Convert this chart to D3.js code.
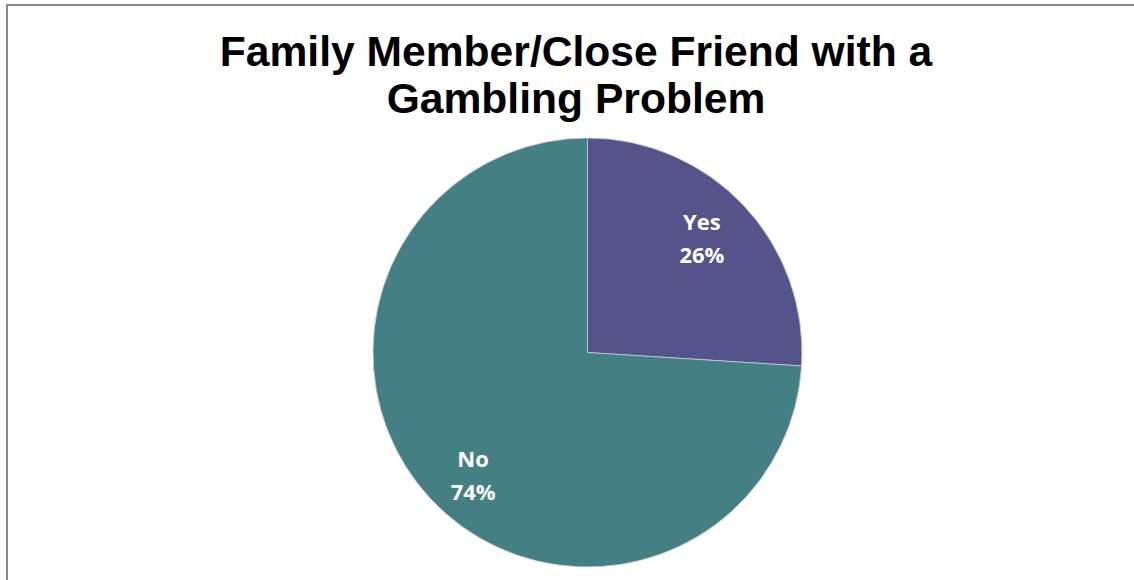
<!DOCTYPE html>
<html>
<head>
<meta charset="utf-8">
<script src="https://cdn.jsdelivr.net/npm/d3@7"></script>
<style>
  html, body { margin: 0; padding: 0; background: #fff; }
  svg { display: block; }
</style>
</head>
<body>
<svg id="chart" width="1134" height="580"></svg>
<script>
// Survey responses
const categories = ["Yes", "No"];
const values = [26, 74];
const sliceColors = ["#55548a", "#447f83"];
const titleLines = ["Family Member/Close Friend with a", "Gambling Problem"];

const width = 1134, height = 580;
const svg = d3.select("#chart");

// Frame lines (left and top)
svg.append("line").attr("x1", 7).attr("y1", 5).attr("x2", 7).attr("y2", height)
  .attr("stroke", "#8a8a8a").attr("stroke-width", 2);
svg.append("line").attr("x1", 6).attr("y1", 5).attr("x2", width).attr("y2", 5)
  .attr("stroke", "#8a8a8a").attr("stroke-width", 2);

// Title
const title = svg.append("text")
  .attr("text-anchor", "middle")
  .attr("font-family", "'Liberation Sans', Arial, sans-serif")
  .attr("font-weight", "bold")
  .attr("font-size", 42.6)
  .attr("fill", "#000");
titleLines.forEach((t, i) => {
  title.append("tspan").attr("x", 576).attr("y", 66 + i * 47).text(t);
});

// Pie
const cx = 587.5, cy = 352.5, r = 214.5;
const data = categories.map((c, i) => ({ label: c, value: values[i], color: sliceColors[i] }));
const pie = d3.pie().value(d => d.value).sort(null);
const arc = d3.arc().innerRadius(0).outerRadius(r);
const labelArc = d3.arc().innerRadius(r * 0.77).outerRadius(r * 0.77);

const g = svg.append("g").attr("transform", `translate(${cx},${cy})`);
const arcs = pie(data);

g.selectAll("path.slice")
  .data(arcs)
  .join("path")
  .attr("class", "slice")
  .attr("d", arc)
  .attr("fill", d => d.data.color)
  .attr("stroke", "#c9cbe0")
  .attr("stroke-width", 0.8);

// Two-line data labels inside each slice
const labels = g.selectAll("text.lbl")
  .data(arcs)
  .join("text")
  .attr("class", "lbl")
  .attr("text-anchor", "middle")
  .attr("font-family", "'Open Sans', 'Liberation Sans', sans-serif")
  .attr("font-weight", "bold")
  .attr("font-size", 22)
  .attr("fill", "#fff")
  .attr("transform", d => {
    const [x, y] = labelArc.centroid(d);
    return `translate(${x * 0.95},${y * 1.05 + 4})`;
  });
labels.append("tspan").attr("x", 0).attr("y", -8).text(d => d.data.label);
labels.append("tspan").attr("x", 0).attr("y", 25).text(d => d.data.value + "%");
</script>
</body>
</html>
